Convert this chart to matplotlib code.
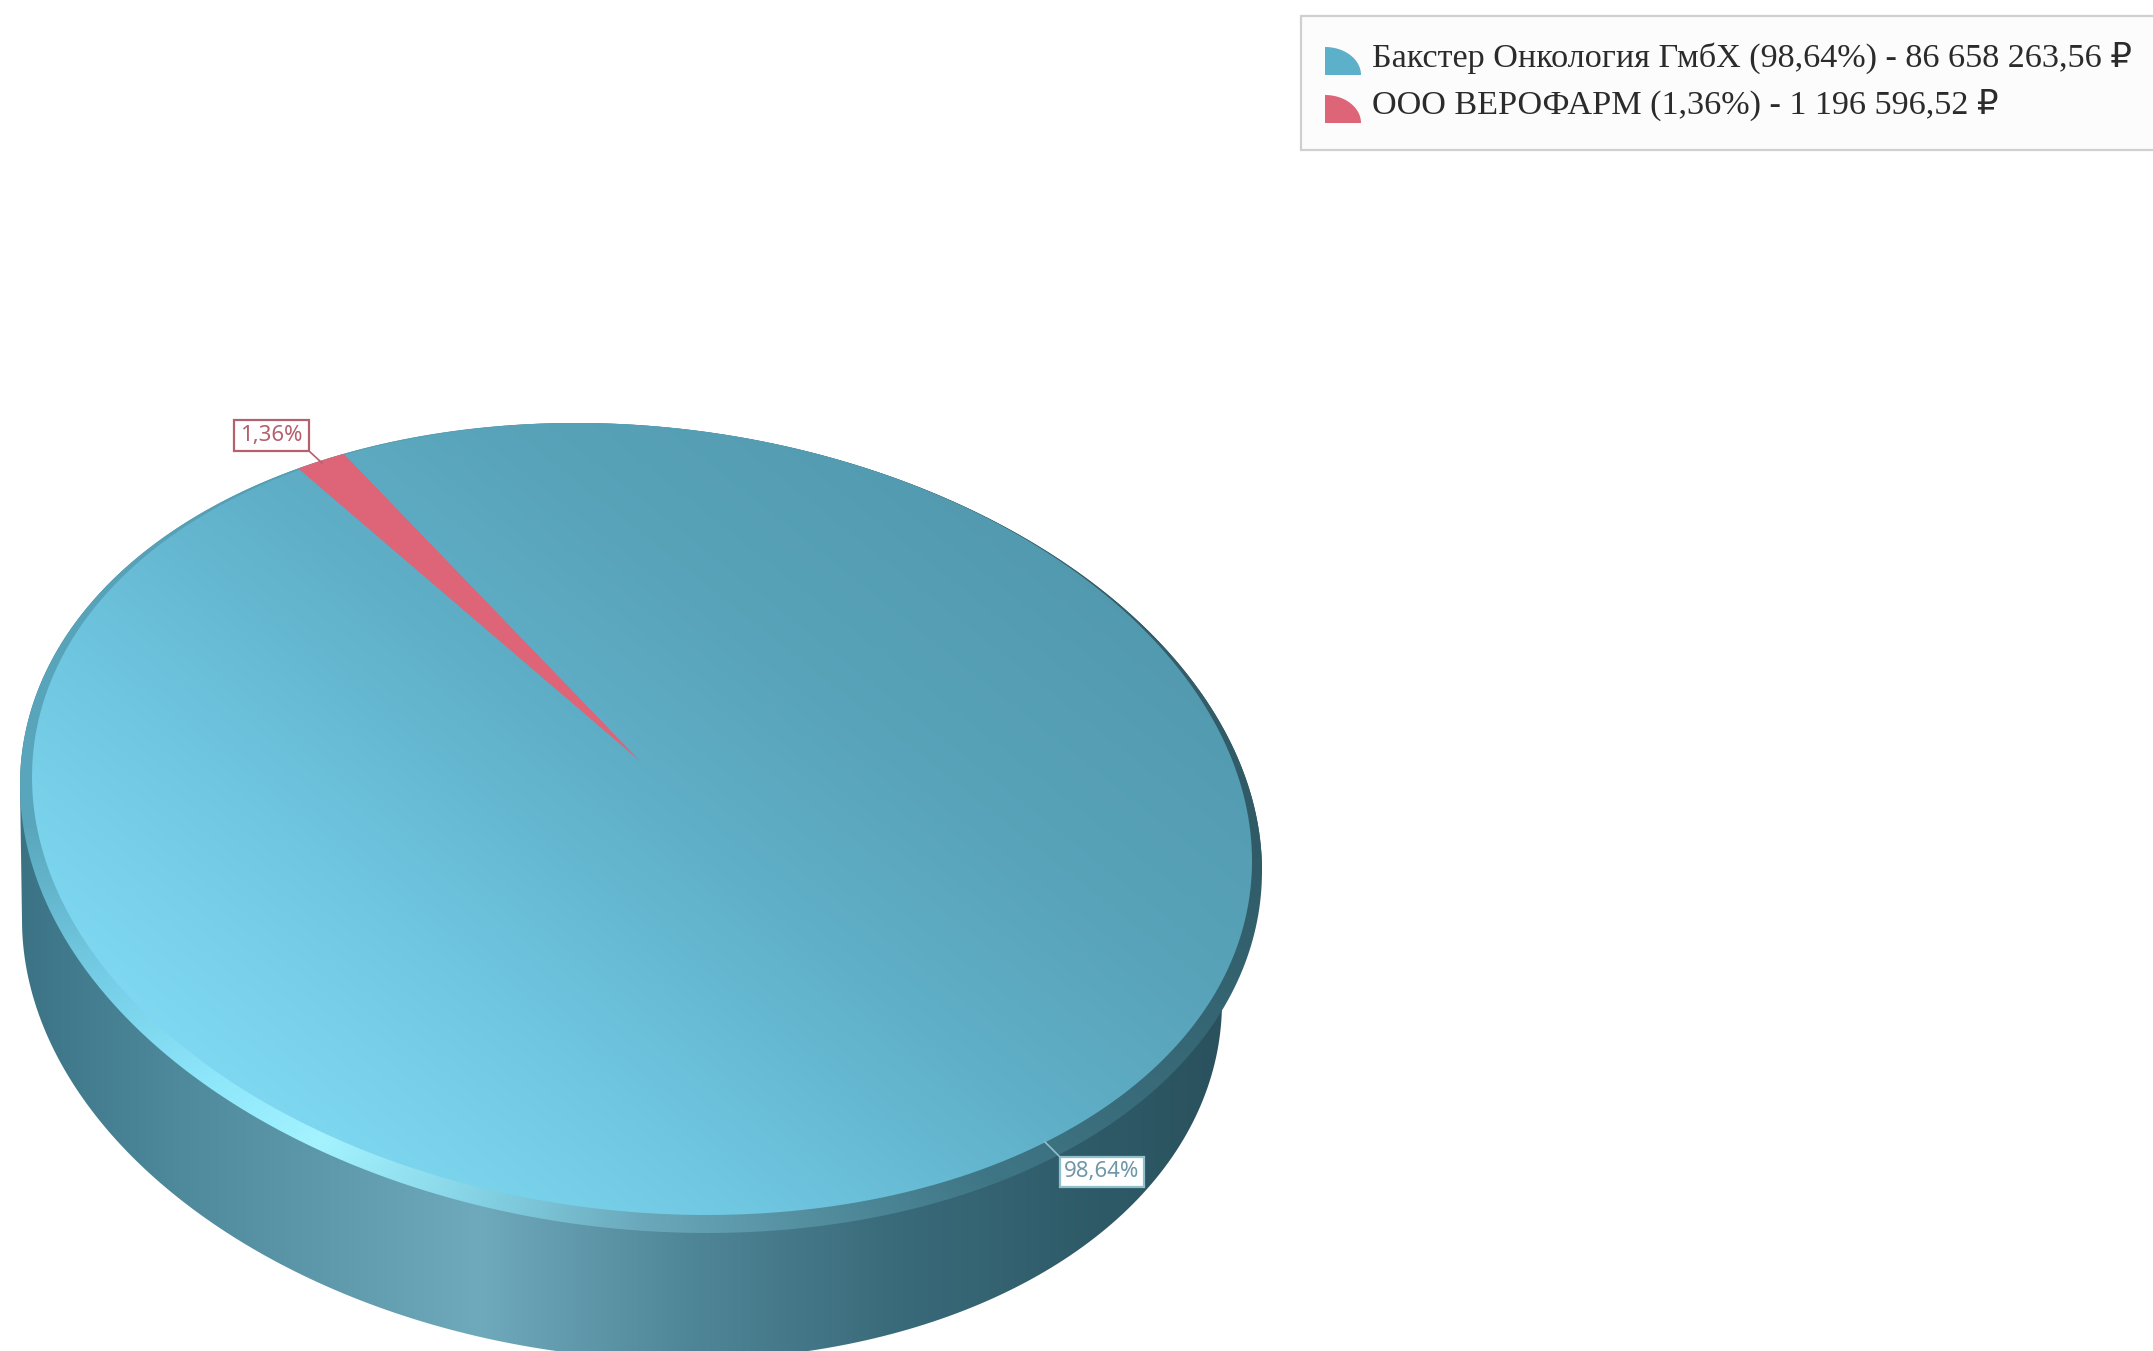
import numpy as np
import matplotlib
matplotlib.use('Agg')
import matplotlib.pyplot as plt
from matplotlib.colors import to_rgb
from matplotlib.patches import Polygon, Rectangle

# Chart data
companies = ['Бакстер Онкология ГмбХ', 'ООО ВЕРОФАРМ']
shares = [98.64, 1.36]
share_labels = ['98,64%', '1,36%']
amounts = ['86 658 263,56', '1 196 596,52']
slice_colors = ['#5cb0c9', '#dd6577']

W, H = 2153, 1351
START_ANGLE = 241.4   # parameter angle on the ellipse where the first slice starts

# Ellipses of the 3D disc: centre x, centre y, half width, half height, shear
TOP_RIM = (641, 828, 621, 405, 43)
TOP_FACE = (642, 819, 610, 396, 42)
BOTTOM = (622, 961, 600, 399, 41)
APEX = (641, 762)   # the perspective moves the pie centre upwards

# Gradient stops
FACE_STOPS = [(0.0, '#86e0f8'), (0.35, '#6fc6e0'), (0.6, '#60b0c9'),
              (0.8, '#59a4ba'), (1.1, '#5299ae')]
SIDE_STOPS = [(20, '#3b7385'), (180, '#4e8a9c'), (480, '#6fa9bc'),
              (690, '#4f8697'), (890, '#3a6b7b'), (1100, '#2e5a67'),
              (1225, '#2a515d')]
RIM_STOPS = [(0, '#2f5a66'), (45, '#3f7686'), (90, '#6aa9bb'), (112, '#82cfe2'),
             (136, '#a4f3ff'), (150, '#8de6fa'), (165, '#74cde5'),
             (180, '#5aa7bd'), (225, '#559fb5'), (270, '#4f96ab'),
             (315, '#3a6270'), (360, '#2f5a66')]


def ellipse_point(ellipse, t_deg):
    cx, cy, hx, hy, shear = ellipse
    t = np.radians(t_deg)
    x = cx + hx*np.cos(t)
    y = cy + shear*np.cos(t) + np.sqrt(hy**2 - shear**2)*np.sin(t)
    return np.column_stack([x, y])


def ramp(values, stops):
    # Turn a float array into an RGB image using (position, colour) stops
    pos = [s[0] for s in stops]
    rgb = np.array([to_rgb(s[1]) for s in stops])
    return np.dstack([np.interp(values, pos, rgb[:, i]) for i in range(3)])


def painted(ax, image, vertices):
    # Show an image on the whole canvas, clipped to a closed outline
    im = ax.imshow(image, extent=(0, W, H, 0), origin='upper', aspect='auto',
                   interpolation='bilinear', zorder=1)
    outline = Polygon(vertices, closed=True, transform=ax.transData)
    im.set_clip_path(outline)
    return im


def draw_disc(ax):
    yy, xx = np.mgrid[0:H, 0:W]

    # Side wall: lower half of the bottom ellipse, upper half of the top one
    low = ellipse_point(BOTTOM, np.linspace(0, 180, 200))
    up = ellipse_point(TOP_RIM, np.linspace(180, 360, 200))
    painted(ax, ramp(xx.astype(float), SIDE_STOPS), np.vstack([low, up]))

    # Bevelled rim
    angle = np.degrees(np.arctan2(yy - TOP_RIM[1], xx - TOP_RIM[0])) % 360
    painted(ax, ramp(angle, RIM_STOPS),
            ellipse_point(TOP_RIM, np.linspace(0, 360, 400)))

    # Top face, light at the lower left and dark at the upper right
    diag = ((xx - 150)*0.62 + (1150 - yy)*0.78)/950.0
    painted(ax, ramp(diag, FACE_STOPS),
            ellipse_point(TOP_FACE, np.linspace(0, 360, 400)))


def draw_slices(ax):
    # Only the small slice gets its own colour, the big one is the disc itself
    ends = START_ANGLE + np.cumsum(shares)*3.6
    starts = ends - np.array(shares)*3.6
    arc = ellipse_point(TOP_RIM, np.linspace(starts[1], ends[1], 30))
    ax.add_patch(Polygon(np.vstack([APEX, arc]), closed=True,
                         facecolor=slice_colors[1], edgecolor='none', zorder=2))


def data_label(ax, text, box, leader, edge, color):
    x0, y0, x1, y1 = box
    ax.plot(leader[0], leader[1], color=edge, lw=1.2, zorder=3)
    ax.add_patch(Rectangle((x0, y0), x1-x0, y1-y0, facecolor='white',
                           edgecolor=edge, lw=1.6, zorder=4))
    ax.text((x0+x1)/2, (y0+y1)/2, text, color=color, fontsize=16,
            family='Noto Sans', ha='center', va='center', zorder=5)


def draw_legend(ax):
    ax.add_patch(Rectangle((1301, 16), 900, 134, facecolor='#fcfcfc',
                           edgecolor='#cfcfcf', lw=1.6, zorder=1))
    rows = [75, 123]
    baselines = [67, 114]
    for name, label, amount, color, base, text_y in zip(companies, share_labels,
                                                        amounts, slice_colors,
                                                        rows, baselines):
        t = np.radians(np.linspace(0, 90, 30))
        icon = np.column_stack([1325 + 36*np.sin(t), base - 28*np.cos(t)])
        ax.add_patch(Polygon(np.vstack([[1325, base], icon]), closed=True,
                             facecolor=color, edgecolor='none', zorder=2))
        ax.text(1372, text_y, f'{name} ({label}) - {amount} ₽',
                color='#2b2b2b', fontsize=24.6,
                family=['Liberation Serif', 'DejaVu Sans'],
                ha='left', va='baseline', zorder=3)


def main():
    fig = plt.figure(figsize=(W/100, H/100), dpi=100)
    ax = fig.add_axes([0, 0, 1, 1])

    draw_disc(ax)
    draw_slices(ax)

    data_label(ax, share_labels[1], (234, 420, 309, 451),
               ([309, 322], [451, 463]), '#b5606e', '#b5606e')
    data_label(ax, share_labels[0], (1060, 1157, 1144, 1187),
               ([1045, 1060], [1142, 1157]), '#8fc0cc', '#6f97a8')

    draw_legend(ax)

    ax.set_xlim(0, W)
    ax.set_ylim(H, 0)
    ax.axis('off')

    fig.savefig('out.png', dpi=100)
    plt.close(fig)


if __name__ == '__main__':
    main()
